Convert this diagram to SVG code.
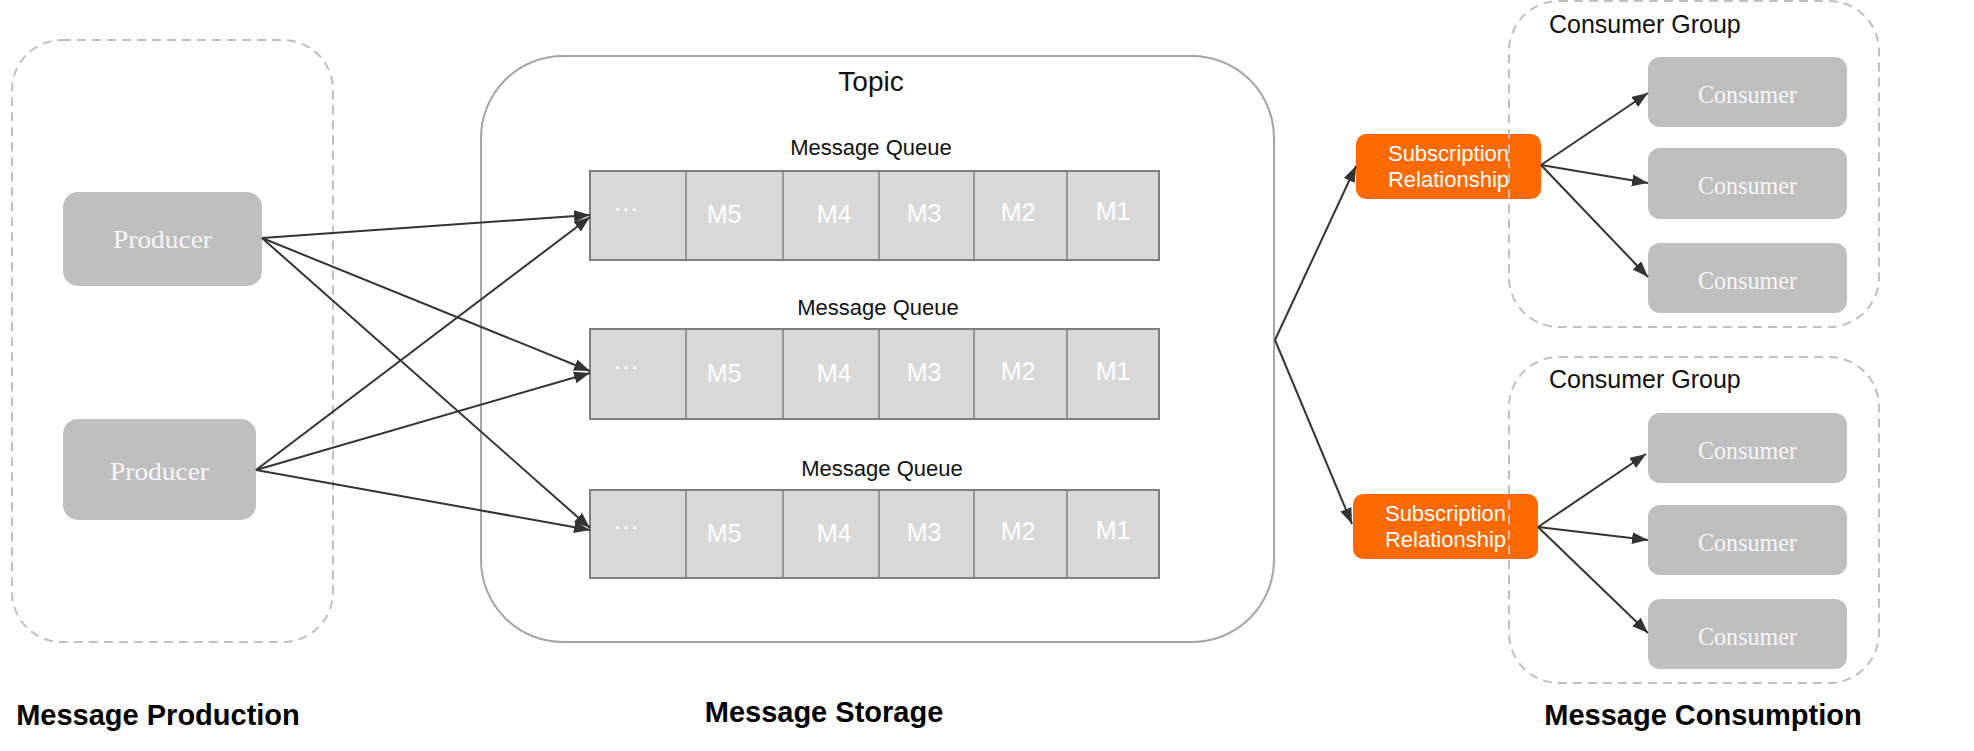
<svg xmlns="http://www.w3.org/2000/svg" width="1974" height="751" viewBox="0 0 1974 751">
<style>
.dash{fill:none;stroke:#c0c0c0;stroke-width:2;stroke-dasharray:9 6}
.gray{fill:#bfbfbf}
.mono{font-family:"Liberation Serif","Times New Roman",serif;font-size:26px;fill:#f7f7f7;text-anchor:middle}
.q{fill:#d9d9d9;stroke:#7f7f7f;stroke-width:2}
.qd{stroke:#7f7f7f;stroke-width:1.5}
.ql{font-family:"Liberation Sans",Arial,sans-serif;font-size:22px;fill:#111;text-anchor:middle}
.m{font-family:"Liberation Sans",Arial,sans-serif;font-size:25px;fill:#ffffff;text-anchor:middle}
.sub{fill:#ff6a00}
.st{font-family:"Liberation Sans",Arial,sans-serif;font-size:22px;fill:#ffffff;text-anchor:middle}
.grp{font-family:"Liberation Sans",Arial,sans-serif;font-size:25px;fill:#111}
.big{font-family:"Liberation Sans",Arial,sans-serif;font-size:29px;font-weight:bold;fill:#000;text-anchor:middle}
.c{fill:none;stroke:#333;stroke-width:2;marker-end:url(#ah)}
</style>
<defs>
<marker id="ah" markerUnits="userSpaceOnUse" markerWidth="18" markerHeight="14" refX="16" refY="6" orient="auto">
<path d="M0,0 L16,6 L0,12 z" fill="#333"/>
</marker>
</defs>
<rect width="1974" height="751" fill="#ffffff"/>

<g id="production">
<rect class="dash" x="12" y="40" width="321" height="602" rx="50"/>
<text class="big" x="158" y="725">Message Production</text>
</g>
<g id="producer1">
<rect class="gray" x="63" y="192" width="199" height="94" rx="15"/>
<text class="mono" x="162.5" y="248" textLength="99" lengthAdjust="spacingAndGlyphs">Producer</text>
</g>
<g id="producer2">
<rect class="gray" x="63" y="419" width="193" height="101" rx="15"/>
<text class="mono" x="159.5" y="480" textLength="99" lengthAdjust="spacingAndGlyphs">Producer</text>
</g>

<g id="topic">
<rect x="481" y="56" width="793" height="586" rx="82" fill="none" stroke="#a6a6a6" stroke-width="2"/>
<text x="871" y="91" font-family="Liberation Sans,Arial,sans-serif" font-size="28px" fill="#111" text-anchor="middle">Topic</text>
<text class="big" x="824" y="722">Message Storage</text>
</g>

<g id="queue1">
<text class="ql" x="871" y="155">Message Queue</text>
<rect class="q" x="590" y="171" width="569" height="89"/>
<g class="qd"><line x1="686" y1="171" x2="686" y2="260"/><line x1="783" y1="171" x2="783" y2="260"/><line x1="879" y1="171" x2="879" y2="260"/><line x1="974" y1="171" x2="974" y2="260"/><line x1="1067" y1="171" x2="1067" y2="260"/></g>
<text class="m" x="626" y="217" font-size="18px">···</text>
<text class="m" x="724" y="223">M5</text>
<text class="m" x="834" y="223">M4</text>
<text class="m" x="924" y="222">M3</text>
<text class="m" x="1018" y="221">M2</text>
<text class="m" x="1113" y="220">M1</text>
</g>

<g id="queue2">
<text class="ql" x="878" y="315">Message Queue</text>
<rect class="q" x="590" y="329" width="569" height="90"/>
<g class="qd"><line x1="686" y1="329" x2="686" y2="419"/><line x1="783" y1="329" x2="783" y2="419"/><line x1="879" y1="329" x2="879" y2="419"/><line x1="974" y1="329" x2="974" y2="419"/><line x1="1067" y1="329" x2="1067" y2="419"/></g>
<text class="m" x="626" y="375" font-size="18px">···</text>
<text class="m" x="724" y="382">M5</text>
<text class="m" x="834" y="382">M4</text>
<text class="m" x="924" y="381">M3</text>
<text class="m" x="1018" y="380">M2</text>
<text class="m" x="1113" y="380">M1</text>
</g>

<g id="queue3">
<text class="ql" x="882" y="476">Message Queue</text>
<rect class="q" x="590" y="490" width="569" height="88"/>
<g class="qd"><line x1="686" y1="490" x2="686" y2="578"/><line x1="783" y1="490" x2="783" y2="578"/><line x1="879" y1="490" x2="879" y2="578"/><line x1="974" y1="490" x2="974" y2="578"/><line x1="1067" y1="490" x2="1067" y2="578"/></g>
<text class="m" x="626" y="535" font-size="18px">···</text>
<text class="m" x="724" y="542">M5</text>
<text class="m" x="834" y="542">M4</text>
<text class="m" x="924" y="541">M3</text>
<text class="m" x="1018" y="540">M2</text>
<text class="m" x="1113" y="539">M1</text>
</g>

<g id="sub1">
<rect class="sub" x="1356" y="134" width="185" height="65" rx="10"/>
<text class="st" x="1448.5" y="161">Subscription</text>
<text class="st" x="1448.5" y="187">Relationship</text>
</g>
<g id="sub2">
<rect class="sub" x="1353" y="494" width="185" height="65" rx="10"/>
<text class="st" x="1445.5" y="521">Subscription</text>
<text class="st" x="1445.5" y="547">Relationship</text>
</g>

<g id="group1">
<rect class="dash" x="1509" y="1" width="370" height="326" rx="50"/>
<text class="grp" x="1549" y="33">Consumer Group</text>
</g>
<g id="consumer1a"><rect class="gray" x="1648" y="57" width="199" height="70" rx="12"/><text class="mono" x="1747.5" y="103" textLength="99" lengthAdjust="spacingAndGlyphs">Consumer</text></g>
<g id="consumer1b"><rect class="gray" x="1648" y="148" width="199" height="71" rx="12"/><text class="mono" x="1747.5" y="194" textLength="99" lengthAdjust="spacingAndGlyphs">Consumer</text></g>
<g id="consumer1c"><rect class="gray" x="1648" y="243" width="199" height="70" rx="12"/><text class="mono" x="1747.5" y="289" textLength="99" lengthAdjust="spacingAndGlyphs">Consumer</text></g>

<g id="group2">
<rect class="dash" x="1509" y="357" width="370" height="326" rx="50"/>
<text class="grp" x="1549" y="388">Consumer Group</text>
<text class="big" x="1703" y="725">Message Consumption</text>
</g>
<g id="consumer2a"><rect class="gray" x="1648" y="413" width="199" height="70" rx="12"/><text class="mono" x="1747.5" y="459" textLength="99" lengthAdjust="spacingAndGlyphs">Consumer</text></g>
<g id="consumer2b"><rect class="gray" x="1648" y="505" width="199" height="70" rx="12"/><text class="mono" x="1747.5" y="551" textLength="99" lengthAdjust="spacingAndGlyphs">Consumer</text></g>
<g id="consumer2c"><rect class="gray" x="1648" y="599" width="199" height="70" rx="12"/><text class="mono" x="1747.5" y="645" textLength="99" lengthAdjust="spacingAndGlyphs">Consumer</text></g>

<g id="connectors">
<line class="c" x1="262" y1="238" x2="590" y2="215"/>
<line class="c" x1="262" y1="238" x2="590" y2="371"/>
<line class="c" x1="262" y1="238" x2="590" y2="528"/>
<line class="c" x1="256" y1="470" x2="590" y2="217"/>
<line class="c" x1="256" y1="470" x2="590" y2="373"/>
<line class="c" x1="256" y1="470" x2="590" y2="530"/>
<line class="c" x1="1275" y1="340" x2="1356" y2="166"/>
<line class="c" x1="1275" y1="340" x2="1352" y2="524"/>
<line class="c" x1="1541" y1="165" x2="1648" y2="93"/>
<line class="c" x1="1541" y1="165" x2="1648" y2="183"/>
<line class="c" x1="1541" y1="165" x2="1648" y2="277"/>
<line class="c" x1="1538" y1="527" x2="1646" y2="454"/>
<line class="c" x1="1538" y1="527" x2="1648" y2="540"/>
<line class="c" x1="1538" y1="527" x2="1648" y2="633"/>
</g>
</svg>
